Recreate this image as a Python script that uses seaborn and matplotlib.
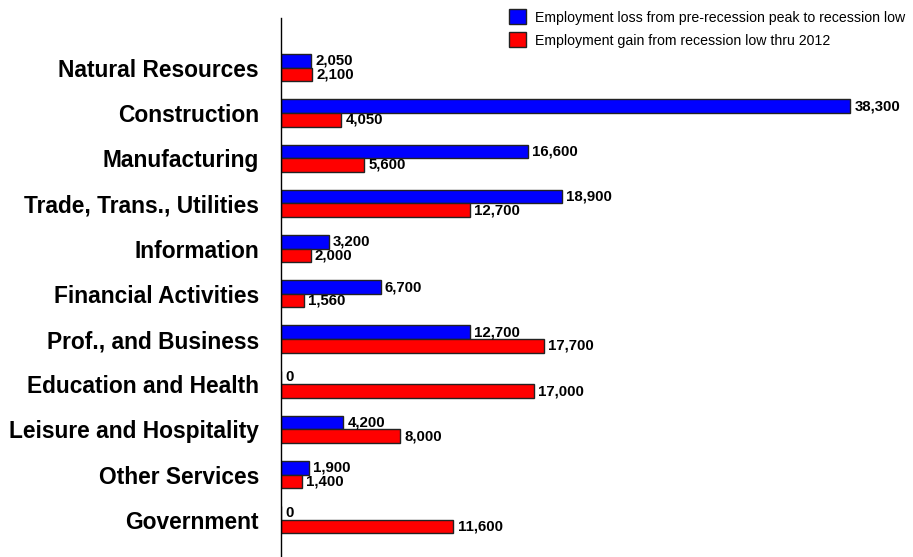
import pandas as pd
import matplotlib.pyplot as plt
import seaborn as sns
from matplotlib.patches import Patch

# Dados
sectors = ['Natural Resources', 'Construction', 'Manufacturing', 'Trade, Trans., Utilities',
           'Information', 'Financial Activities', 'Prof., and Business', 'Education and Health',
           'Leisure and Hospitality', 'Other Services', 'Government']
loss = [2050, 38300, 16600, 18900, 3200, 6700, 12700, 0, 4200, 1900, 0]
gain = [2100, 4050, 5600, 12700, 2000, 1560, 17700, 17000, 8000, 1400, 11600]
series = ['Employment loss from pre-recession peak to recession low',
          'Employment gain from recession low thru 2012']
colors = ['#0000FF', '#FF0000']

df = pd.DataFrame({
    'Sector': sectors * 2,
    'Jobs': loss + gain,
    'Series': [series[0]] * len(sectors) + [series[1]] * len(sectors),
})

sns.set_style('white')
plt.rcParams['font.family'] = ['Liberation Sans', 'DejaVu Sans']
plt.rcParams['text.color'] = 'black'
plt.rcParams['ytick.labelcolor'] = 'black'

fig = plt.figure(figsize=(9.13, 5.57), dpi=100)
ax = fig.add_axes([281 / 913, 0, 1 - 281 / 913, 1 - 18 / 557])

sns.barplot(data=df, y='Sector', x='Jobs', hue='Series', orient='h',
            palette=colors, saturation=1, width=0.6, edgecolor='#222222',
            linewidth=1, legend=False, ax=ax)

for cont in ax.containers:
    ax.bar_label(cont, labels=[f'{v:,.0f}' for v in cont.datavalues],
                 padding=3, fontsize=10.8, fontweight='bold', color='black')

ax.set_xlim(0, 42530)
ax.set_ylim(10.82, -1.1)
ax.set_xlabel('')
ax.set_ylabel('')
ax.set_xticks([])
ax.tick_params(axis='y', length=0, pad=16)
for lab in ax.get_yticklabels():
    lab.set_fontsize(16.4)
    lab.set_fontweight('bold')
    lab.set_color('black')
for s in ['top', 'right', 'bottom']:
    ax.spines[s].set_visible(False)
ax.spines['left'].set_color('black')
ax.spines['left'].set_linewidth(1)

handles = [Patch(facecolor=c, edgecolor='#222222', linewidth=1) for c in colors]
fig.legend(handles, series, loc='upper left', bbox_to_anchor=(496 / 913, 1.006),
           frameon=False, fontsize=10.2, handlelength=1.25, handleheight=1.25,
           handletextpad=0.6, labelspacing=0.55)

fig.savefig('out.png', dpi=100)
